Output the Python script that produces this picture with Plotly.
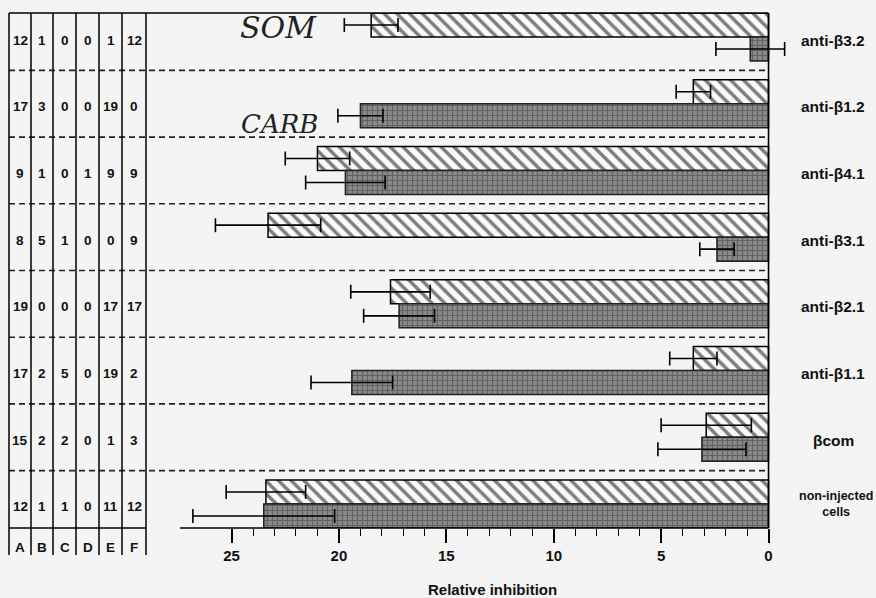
import plotly.graph_objects as go

# ---- data ----
groups = ["anti-β3.2", "anti-β1.2", "anti-β4.1", "anti-β3.1",
          "anti-β2.1", "anti-β1.1", "βcom", "non-injected<br>cells"]
som = [18.5, 3.5, 21.0, 23.3, 17.6, 3.5, 2.9, 23.4]
som_err = [1.25, 0.8, 1.5, 2.45, 1.85, 1.1, 2.1, 1.85]
carb = [0.85, 19.0, 19.7, 2.4, 17.2, 19.4, 3.1, 23.5]
carb_err = [1.6, 1.05, 1.85, 0.8, 1.65, 1.9, 2.05, 3.3]
table_cols = ["A", "B", "C", "D", "E", "F"]
table_rows = [
    [12, 1, 0, 0, 1, 12],
    [17, 3, 0, 0, 19, 0],
    [9, 1, 0, 1, 9, 9],
    [8, 5, 1, 0, 0, 9],
    [19, 0, 0, 0, 17, 17],
    [17, 2, 5, 0, 19, 2],
    [15, 2, 2, 0, 1, 3],
    [12, 1, 1, 0, 11, 12],
]
x_ticks = [0, 5, 10, 15, 20, 25]
x_minor = [v for v in range(1, 25) if v % 5 != 0]

# ---- layout geometry (pixels) ----
W, H = 876, 598
ML, MR, MT, MB = 180, 86, 13, 70
PW = W - ML - MR
PH = H - MT - MB


def px_x(px):
    return (px - ML) / PW


def px_y(py):
    return (H - MB - py) / PH


ypos = list(range(len(groups)))
FONT = "Liberation Sans"

fig = go.Figure()
fig.add_trace(go.Bar(
    y=ypos, x=som, orientation="h", name="SOM",
    marker=dict(color="#fafafa", line=dict(color="black", width=1.5),
                pattern=dict(shape="\\", fgcolor="black", bgcolor="#fafafa",
                             size=9, solidity=0.38)),
    error_x=dict(type="data", array=som_err, color="black",
                 thickness=1.6, width=7),
))
fig.add_trace(go.Bar(
    y=ypos, x=carb, orientation="h", name="CARB",
    marker=dict(color="#707070", line=dict(color="#222", width=1.5),
                pattern=dict(shape="+", fgcolor="#3a3a3a", bgcolor="#8a8a8a",
                             size=5, solidity=0.42)),
    error_x=dict(type="data", array=carb_err, color="black",
                 thickness=1.6, width=7),
))

shapes = []
# dashed separators
for k in range(len(groups) - 1):
    shapes.append(dict(type="line", xref="paper", yref="y",
                       x0=px_x(9), x1=px_x(765), y0=k + 0.5, y1=k + 0.5,
                       line=dict(color="#222", width=1.6, dash="6px,4px")))
# top border
shapes.append(dict(type="line", xref="paper", yref="paper",
                   x0=px_x(9), x1=px_x(768.5), y0=1, y1=1,
                   line=dict(color="black", width=1.5)))
# x-axis baseline
shapes.append(dict(type="line", xref="paper", yref="paper",
                   x0=0, x1=px_x(768.5), y0=0, y1=0,
                   line=dict(color="black", width=1.5)))
# vertical axis at 0
shapes.append(dict(type="line", xref="x", yref="paper",
                   x0=0, x1=0, y0=0, y1=1,
                   line=dict(color="black", width=1.6)))
# table grid
col_px = [9, 31, 53, 76, 99, 122, 146]
for cx in col_px:
    shapes.append(dict(type="line", xref="paper", yref="paper",
                       x0=px_x(cx), x1=px_x(cx), y0=px_y(555), y1=1,
                       line=dict(color="black", width=1.5)))
shapes.append(dict(type="line", xref="paper", yref="paper",
                   x0=px_x(9), x1=px_x(146), y0=0, y1=0,
                   line=dict(color="black", width=1.5)))

annotations = []
col_centers = [(col_px[i] + col_px[i + 1]) / 2 for i in range(6)]
for r, row in enumerate(table_rows):
    for c, val in enumerate(row):
        annotations.append(dict(
            x=px_x(col_centers[c]), xref="paper", y=r, yref="y", yshift=-3,
            text=str(val), showarrow=False, xanchor="center", yanchor="middle",
            font=dict(family=FONT, size=13.5, color="#111", weight="bold")))
for c, lab in enumerate(table_cols):
    annotations.append(dict(
        x=px_x(col_centers[c]), xref="paper", y=px_y(547), yref="paper",
        text=lab, showarrow=False, xanchor="center", yanchor="middle",
        font=dict(family=FONT, size=13.5, color="#111", weight="bold")))
for r, g in enumerate(groups):
    small = g.startswith("non")
    annotations.append(dict(
        x=px_x(836 if small else 833), xref="paper", y=r, yref="y",
        yshift=0 if small else -3,
        text=g, showarrow=False, xanchor="center", yanchor="middle",
        font=dict(family=FONT, size=12.5 if small else 15.5, color="#111",
                  weight="bold")))
annotations.append(dict(
    x=px_x(492), xref="paper", y=px_y(589), yref="paper",
    text="Relative inhibition", showarrow=False, xanchor="center",
    yanchor="middle",
    font=dict(family=FONT, size=15, color="#111", weight="bold")))
# handwritten notes
annotations.append(dict(
    x=px_x(278), xref="paper", y=px_y(27), yref="paper", text="SOM",
    showarrow=False, xanchor="center", yanchor="middle",
    font=dict(family="DejaVu Serif", size=30, color="#222", style="italic")))
annotations.append(dict(
    x=px_x(279), xref="paper", y=px_y(124), yref="paper", text="CARB",
    showarrow=False, xanchor="center", yanchor="middle",
    font=dict(family="DejaVu Serif", size=26, color="#222", style="italic")))

fig.update_layout(
    width=W, height=H,
    margin=dict(l=ML, r=MR, t=MT, b=MB),
    paper_bgcolor="#f4f4f4", plot_bgcolor="#f4f4f4",
    showlegend=False, barmode="group", bargap=0.28, bargroupgap=0,
    shapes=shapes, annotations=annotations,
    xaxis=dict(range=[27.4, -1.0], tickvals=x_ticks,
               ticktext=[str(v) for v in x_ticks],
               ticks="outside", ticklen=14, tickwidth=1.5, tickcolor="black",
               tickfont=dict(family=FONT, size=15, color="#111", weight="bold"),
               minor=dict(tickvals=x_minor, ticks="outside", ticklen=7,
                          tickwidth=1.3, tickcolor="black", showgrid=False),
               showgrid=False, zeroline=False, showline=False),
    yaxis=dict(range=[7.36, -0.36], showticklabels=False, ticks="",
               showgrid=False, zeroline=False, showline=False),
)

fig.write_html(
    "out.html",
    config={"displayModeBar": False},
    post_script="document.body.style.margin='0px';"
                "document.body.style.padding='0px';"
                "document.body.style.background='#f4f4f4';",
)
